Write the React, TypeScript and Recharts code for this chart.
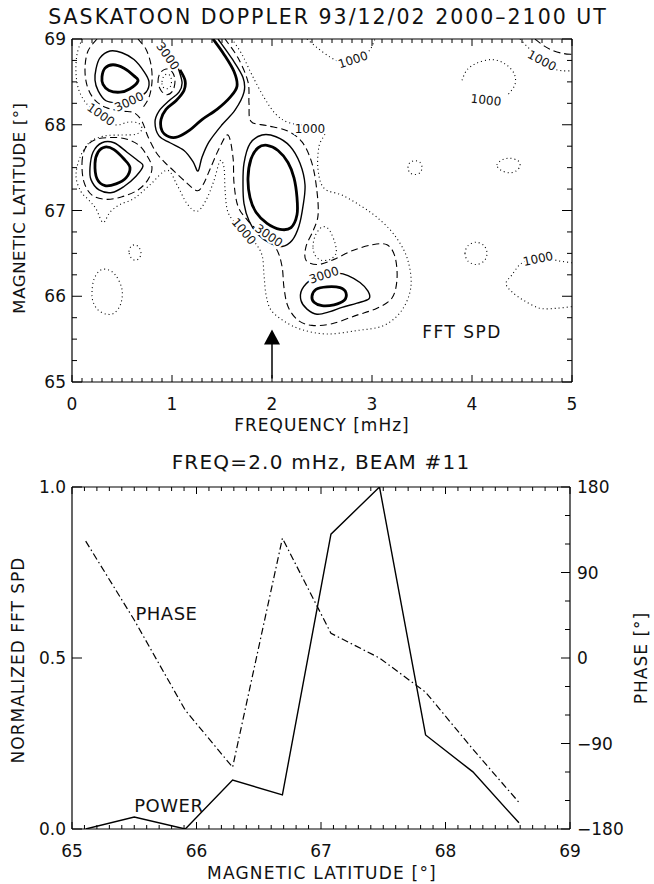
import React from 'react';
import { ComposedChart, Line, Scatter, XAxis, YAxis } from 'recharts';

type Pt = [number, number];

// ---------- top panel: contours of FFT spectral power, [freq mHz, magnetic lat]
// 4000 level (thick)
const thickA: Pt[] = [[0.30, 68.56], [0.33, 68.66], [0.41, 68.70], [0.52, 68.66], [0.62, 68.57], [0.66, 68.51], [0.58, 68.42], [0.48, 68.38], [0.37, 68.40], [0.31, 68.47]];
const thickB: Pt[] = [[0.23, 67.55], [0.26, 67.68], [0.33, 67.74], [0.42, 67.71], [0.52, 67.60], [0.58, 67.50], [0.54, 67.38], [0.44, 67.31], [0.33, 67.29], [0.25, 67.37]];
const thickC: Pt[] = [[1.08, 68.64], [1.13, 68.52], [1.12, 68.40], [1.04, 68.28], [0.94, 68.18], [0.89, 68.06], [0.90, 67.93], [0.97, 67.86], [1.06, 67.86], [1.18, 67.94], [1.30, 68.06], [1.45, 68.18], [1.58, 68.32], [1.65, 68.45], [1.62, 68.62], [1.52, 68.82], [1.41, 69.0]];
const thickD: Pt[] = [[1.76, 67.38], [1.79, 67.60], [1.86, 67.73], [1.95, 67.76], [2.06, 67.70], [2.16, 67.56], [2.22, 67.38], [2.25, 67.15], [2.25, 66.95], [2.19, 66.80], [2.08, 66.78], [1.95, 66.85], [1.84, 66.98], [1.78, 67.15]];
const thickE: Pt[] = [[2.40, 66.00], [2.44, 66.08], [2.55, 66.11], [2.68, 66.10], [2.74, 66.04], [2.72, 65.95], [2.62, 65.90], [2.50, 65.89], [2.42, 65.93]];

// 3000 level (thin solid)
const thinA: Pt[] = [[0.23, 68.52], [0.24, 68.65], [0.28, 68.78], [0.38, 68.86], [0.50, 68.84], [0.62, 68.76], [0.72, 68.62], [0.77, 68.50], [0.74, 68.38], [0.62, 68.30], [0.48, 68.26], [0.34, 68.28], [0.26, 68.40]];
const thinB: Pt[] = [[0.18, 67.50], [0.21, 67.68], [0.30, 67.79], [0.42, 67.79], [0.55, 67.68], [0.66, 67.58], [0.71, 67.52], [0.64, 67.40], [0.52, 67.28], [0.40, 67.21], [0.27, 67.24], [0.19, 67.36]];
const thinC: Pt[] = [[1.04, 68.74], [1.10, 68.50], [1.07, 68.38], [0.97, 68.28], [0.87, 68.16], [0.83, 68.03], [0.87, 67.87], [0.98, 67.79], [1.12, 67.70], [1.21, 67.57], [1.26, 67.46], [1.30, 67.62], [1.37, 67.80], [1.50, 68.00], [1.63, 68.17], [1.72, 68.38], [1.71, 68.55], [1.60, 68.77], [1.46, 69.0]];
const thinD: Pt[] = [[1.71, 67.30], [1.72, 67.55], [1.78, 67.78], [1.90, 67.88], [2.04, 67.86], [2.18, 67.75], [2.28, 67.55], [2.33, 67.30], [2.31, 67.05], [2.27, 66.82], [2.20, 66.65], [2.10, 66.58], [1.98, 66.62], [1.86, 66.72], [1.77, 66.88], [1.72, 67.08]];
const thinE: Pt[] = [[2.76, 66.24], [2.88, 66.16], [2.96, 66.06], [2.97, 65.97], [2.85, 65.92], [2.70, 65.87], [2.58, 65.82], [2.45, 65.79], [2.35, 65.85], [2.29, 65.95], [2.30, 66.08], [2.40, 66.20], [2.55, 66.26], [2.66, 66.27]];

// 2000 level (dashed)
const dashMain: Pt[] = [[0.25, 69.0], [0.16, 68.86], [0.13, 68.66], [0.15, 68.46], [0.22, 68.30], [0.34, 68.20], [0.50, 68.16], [0.62, 68.14], [0.70, 68.04], [0.76, 67.86], [0.84, 67.68], [0.92, 67.57], [1.02, 67.46], [1.14, 67.33], [1.25, 67.23], [1.31, 67.30], [1.38, 67.48], [1.47, 67.72], [1.56, 67.88], [1.61, 67.62], [1.62, 67.32], [1.66, 67.05], [1.76, 66.88], [1.90, 66.72], [2.04, 66.56], [2.10, 66.35], [2.12, 66.10], [2.16, 65.88], [2.26, 65.72], [2.40, 65.66], [2.60, 65.68], [2.85, 65.78], [3.05, 65.86], [3.20, 65.98], [3.25, 66.20], [3.23, 66.46], [3.15, 66.60], [3.00, 66.60], [2.80, 66.53], [2.62, 66.43], [2.46, 66.37], [2.34, 66.42], [2.34, 66.58], [2.41, 66.76], [2.46, 66.94], [2.45, 67.22], [2.40, 67.55], [2.30, 67.80], [2.15, 67.93], [1.95, 67.99], [1.79, 68.04], [1.77, 68.25], [1.76, 68.50], [1.66, 68.78], [1.53, 69.0]];
const dashArmA: Pt[] = [[0.66, 69.0], [0.74, 68.88], [0.79, 68.70], [0.80, 68.50], [0.77, 68.32], [0.71, 68.20]];
const dashB: Pt[] = [[0.10, 67.55], [0.13, 67.72], [0.22, 67.82], [0.36, 67.85], [0.52, 67.84], [0.66, 67.77], [0.75, 67.64], [0.80, 67.50], [0.76, 67.36], [0.66, 67.24], [0.50, 67.16], [0.34, 67.13], [0.20, 67.18], [0.12, 67.33]];
const dashSmall: Pt[] = [[0.86, 68.50], [0.88, 68.60], [0.94, 68.65], [1.00, 68.62], [1.03, 68.52], [1.01, 68.40], [0.95, 68.35], [0.89, 68.40]];
const dashTopRight: Pt[] = [[4.63, 69.0], [4.72, 68.92], [4.82, 68.86], [4.92, 68.83], [5.0, 68.82]];

// 1000 level (dotted)
const dotMain: Pt[] = [[0.10, 69.0], [0.05, 68.82], [0.04, 68.60], [0.07, 68.40], [0.15, 68.24], [0.28, 68.12], [0.43, 68.00], [0.56, 68.03], [0.66, 68.02], [0.70, 67.95], [0.64, 67.89], [0.50, 67.88], [0.33, 67.87], [0.18, 67.80], [0.08, 67.62], [0.04, 67.40], [0.09, 67.22], [0.17, 67.12], [0.24, 67.02], [0.31, 66.86], [0.38, 66.98], [0.48, 67.07], [0.62, 67.14], [0.78, 67.30], [0.95, 67.47], [1.05, 67.30], [1.15, 67.08], [1.25, 66.99], [1.34, 67.12], [1.42, 67.35], [1.48, 67.58], [1.52, 67.50], [1.53, 67.25], [1.55, 67.02], [1.60, 66.90], [1.70, 66.78], [1.82, 66.64], [1.90, 66.48], [1.92, 66.25], [1.94, 66.02], [1.99, 65.84], [2.12, 65.71], [2.30, 65.61], [2.55, 65.56], [2.85, 65.60], [3.12, 65.66], [3.30, 65.84], [3.39, 66.12], [3.35, 66.45], [3.22, 66.72], [3.05, 66.92], [2.88, 67.06], [2.70, 67.18], [2.52, 67.26], [2.46, 67.48], [2.47, 67.75], [2.53, 67.92], [2.40, 67.98], [2.18, 68.02], [2.04, 68.12], [1.92, 68.32], [1.80, 68.58], [1.70, 68.82], [1.60, 69.0]];
const dotInnerSmall: Pt[] = [[0.90, 68.50], [0.92, 68.57], [0.96, 68.59], [0.99, 68.55], [0.99, 68.46], [0.95, 68.42], [0.91, 68.44]];
const dotS1: Pt[] = [[0.57, 66.52], [0.59, 66.58], [0.63, 66.60], [0.67, 66.57], [0.69, 66.50], [0.67, 66.44], [0.63, 66.42], [0.59, 66.45]];
const dotS2: Pt[] = [[0.20, 66.05], [0.22, 66.20], [0.28, 66.30], [0.36, 66.31], [0.44, 66.24], [0.50, 66.08], [0.49, 65.92], [0.43, 65.81], [0.35, 65.79], [0.26, 65.84], [0.21, 65.94]];
const dotS3: Pt[] = [[2.41, 66.58], [2.43, 66.70], [2.48, 66.79], [2.53, 66.81], [2.58, 66.76], [2.63, 66.62], [2.64, 66.50], [2.58, 66.43], [2.49, 66.42], [2.43, 66.48]];
const dotS4: Pt[] = [[3.36, 67.50], [3.38, 67.56], [3.43, 67.58], [3.48, 67.56], [3.50, 67.50], [3.48, 67.44], [3.43, 67.42], [3.38, 67.44]];
const dotS5: Pt[] = [[4.25, 67.53], [4.30, 67.59], [4.38, 67.61], [4.46, 67.58], [4.48, 67.52], [4.44, 67.46], [4.37, 67.44], [4.29, 67.47]];
const dotS6: Pt[] = [[3.93, 66.50], [3.96, 66.59], [4.04, 66.63], [4.12, 66.59], [4.15, 66.50], [4.12, 66.41], [4.04, 66.37], [3.96, 66.41]];
const dotArcTR: Pt[] = [[3.90, 68.52], [3.95, 68.64], [4.05, 68.72], [4.20, 68.76], [4.33, 68.71], [4.42, 68.60], [4.43, 68.47], [4.36, 68.35]];
const dotTop: Pt[] = [[2.35, 69.0], [2.45, 68.90], [2.58, 68.79], [2.70, 68.73], [2.85, 68.77], [2.97, 68.86], [3.03, 69.0]];
const dotTopRight: Pt[] = [[4.48, 69.0], [4.58, 68.88], [4.70, 68.76], [4.80, 68.66], [4.90, 68.63], [5.0, 68.63]];
const dotLowRight: Pt[] = [[5.0, 66.39], [4.88, 66.41], [4.75, 66.44], [4.60, 66.45], [4.48, 66.37], [4.40, 66.25], [4.34, 66.15], [4.40, 66.05], [4.52, 65.95], [4.68, 65.86], [4.85, 65.86], [5.0, 65.88]];

const CONTOURS: { pts: Pt[]; level: number; closed: boolean }[] = [
  { pts: dotMain, level: 1000, closed: false },
  { pts: dotInnerSmall, level: 1000, closed: true },
  { pts: dotS1, level: 1000, closed: true },
  { pts: dotS2, level: 1000, closed: true },
  { pts: dotS3, level: 1000, closed: true },
  { pts: dotS4, level: 1000, closed: true },
  { pts: dotS5, level: 1000, closed: true },
  { pts: dotS6, level: 1000, closed: true },
  { pts: dotArcTR, level: 1000, closed: false },
  { pts: dotTop, level: 1000, closed: false },
  { pts: dotTopRight, level: 1000, closed: false },
  { pts: dotLowRight, level: 1000, closed: false },
  { pts: dashMain, level: 2000, closed: false },
  { pts: dashArmA, level: 2000, closed: false },
  { pts: dashB, level: 2000, closed: true },
  { pts: dashSmall, level: 2000, closed: true },
  { pts: dashTopRight, level: 2000, closed: false },
  { pts: thinA, level: 3000, closed: true },
  { pts: thinB, level: 3000, closed: true },
  { pts: thinC, level: 3000, closed: false },
  { pts: thinD, level: 3000, closed: true },
  { pts: thinE, level: 3000, closed: true },
  { pts: thickA, level: 4000, closed: true },
  { pts: thickB, level: 4000, closed: true },
  { pts: thickC, level: 4000, closed: false },
  { pts: thickD, level: 4000, closed: true },
  { pts: thickE, level: 4000, closed: true },
];

// contour labels
const LABEL_F = [0.96, 0.57, 0.29, 2.38, 2.81, 4.70, 4.14, 1.72, 1.97, 2.52, 4.66];
const LABEL_LAT = [68.80, 68.27, 68.12, 67.96, 68.76, 68.75, 68.29, 66.76, 66.71, 66.25, 66.44];
const LABEL_TEXT = ['3000', '3000', '1000', '1000', '1000', '1000', '1000', '1000', '3000', '3000', '1000'];
const LABEL_ANGLE = [55, -25, 35, 0, -18, 28, 6, 50, 35, -18, -12];

const ARROW_STEM: Pt[] = [[2.0, 65.04], [2.0, 65.47]];
const ARROW_HEAD: Pt = [2.0, 65.52];

const FREQ_MAJOR = [0, 1, 2, 3, 4, 5];
const LAT_MAJOR = [65, 66, 67, 68, 69];

// ---------- bottom panel: cut at 2.0 mHz, beam 11
const CUT_LAT = [65.11, 65.50, 65.91, 66.29, 66.69, 67.08, 67.47, 67.84, 68.22, 68.59];
const CUT_POWER = [0.0, 0.035, 0.0, 0.143, 0.10, 0.862, 1.0, 0.275, 0.167, 0.018];
const CUT_PHASE = [123, 40, -55, -115, 126, 26, 0, -36, -96, -152];
const POWER_MAJOR = [0, 0.5, 1];
const PHASE_MAJOR = [-180, -90, 0, 90, 180];

const FONT = '"DejaVu Sans", sans-serif';

const LEVEL_STYLE: Record<number, { w: number; dash?: string }> = {
  1000: { w: 1.1, dash: '1 3' },
  2000: { w: 1.1, dash: '7 4' },
  3000: { w: 1.4 },
  4000: { w: 2.8 },
};

// Catmull-Rom curve factory (open or closed) so contours pass through points
const catmull = (closed: boolean) => (ctx: any) => {
  let pts: number[][] = [];
  return {
    areaStart() {},
    areaEnd() {},
    lineStart() { pts = []; },
    lineEnd() {
      const n = pts.length;
      if (!n) return;
      const get = (i: number) => (closed ? pts[(i + n) % n] : pts[Math.max(0, Math.min(n - 1, i))]);
      ctx.moveTo(pts[0][0], pts[0][1]);
      const segs = closed ? n : n - 1;
      for (let i = 0; i < segs; i++) {
        const p0 = get(i - 1), p1 = get(i), p2 = get(i + 1), p3 = get(i + 2);
        ctx.bezierCurveTo(
          p1[0] + (p2[0] - p0[0]) / 6, p1[1] + (p2[1] - p0[1]) / 6,
          p2[0] - (p3[0] - p1[0]) / 6, p2[1] - (p3[1] - p1[1]) / 6,
          p2[0], p2[1]
        );
      }
      if (closed) ctx.closePath();
    },
    point(x: number, y: number) { pts.push([+x, +y]); },
  };
};
const openCurve = catmull(false);
const closedCurve = catmull(true);

function rangeTicks(majors: number[], step: number) {
  const out: number[] = [];
  const lo = majors[0];
  const n = Math.round((majors[majors.length - 1] - lo) / step);
  for (let i = 0; i <= n; i++) out.push(+(lo + i * step).toFixed(4));
  return out;
}

function FrameTick(props: any) {
  const { x, y, payload, side, majors, majorLen = 8, minorLen = 4, fmt, showLabel = true } = props;
  const v = payload.value;
  const major = majors.some((m: number) => Math.abs(m - v) < 1e-6);
  const len = major ? majorLen : minorLen;
  let x2 = x, y2 = y;
  if (side === 'bottom') y2 = y - len;
  if (side === 'top') y2 = y + len;
  if (side === 'left') x2 = x + len;
  if (side === 'right') x2 = x - len;
  let txt = null;
  if (major && showLabel) {
    const s = fmt ? fmt(v) : String(v);
    const common = { fontFamily: FONT, fontSize: 17, fill: '#111' };
    if (side === 'bottom') txt = <text x={x} y={y + 28} textAnchor="middle" {...common}>{s}</text>;
    if (side === 'left') txt = <text x={x - 6} y={y} dy="0.36em" textAnchor="end" {...common}>{s}</text>;
    if (side === 'right') txt = <text x={x + 7} y={y} dy="0.36em" textAnchor="start" {...common}>{s}</text>;
  }
  return (
    <g>
      <line x1={x} y1={y} x2={x2} y2={y2} stroke="#000" strokeWidth={1} />
      {txt}
    </g>
  );
}

const TextMark = (props: any) => {
  const { cx, cy, payload } = props;
  return (
    <text
      x={cx} y={cy} dy="0.36em" textAnchor={payload.anchor || 'middle'}
      transform={payload.angle ? `rotate(${payload.angle} ${cx} ${cy})` : undefined}
      fontFamily={FONT} fontSize={payload.size} fill="#111"
      stroke={payload.mask ? '#fff' : 'none'} strokeWidth={payload.mask ? 4 : 0}
      style={{ paintOrder: 'stroke', letterSpacing: payload.ls || 0 }}
    >
      {payload.text}
    </text>
  );
};

const ArrowHead = (props: any) => {
  const { cx, cy } = props;
  return <polygon points={`${cx},${cy - 8} ${cx - 8},${cy + 7} ${cx + 8},${cy + 7}`} fill="#000" />;
};

const axisLine = { stroke: '#000', strokeWidth: 1.2 };

function Caption({ x, y, text, size, ls = 1, rotate = 0 }: any) {
  return (
    <div
      style={{
        position: 'absolute', left: x, top: y, whiteSpace: 'nowrap', fontFamily: FONT,
        fontSize: size, letterSpacing: ls, color: '#111', lineHeight: 1,
        transform: `translate(-50%, -50%) rotate(${rotate}deg)`,
      }}
    >
      {text}
    </div>
  );
}

export default function App() {
  const labels = LABEL_F.map((f, i) => ({ f, lat: LABEL_LAT[i], text: LABEL_TEXT[i], angle: LABEL_ANGLE[i], size: 12, mask: true }));
  const spdLabel = [{ f: 3.90, lat: 65.59, text: 'FFT SPD', size: 17, ls: 1.5, mask: false }];
  const freqMinor = rangeTicks(FREQ_MAJOR, 0.1);
  const latMinor = rangeTicks(LAT_MAJOR, 0.25);

  const cutRows = CUT_LAT.map((lat, i) => ({ lat, power: CUT_POWER[i], phase: CUT_PHASE[i] }));
  const cutLatTicks = rangeTicks(LAT_MAJOR, 0.1);
  const phaseTicks = rangeTicks(PHASE_MAJOR, 30);
  const phaseLabel = [{ lat: 65.51, phase: 47, text: 'PHASE', size: 18, anchor: 'start', ls: 0.5 }];
  const powerLabel = [{ lat: 65.50, power: 0.07, text: 'POWER', size: 18, anchor: 'start', ls: 0.5 }];
  const fmtPhase = (v: number) => (v < 0 ? '\u2212' + Math.abs(v) : String(v));

  return (
    <div style={{ position: 'absolute', left: 0, top: 0, width: 654, height: 884, background: '#fff', overflow: 'hidden' }}>
      <Caption x={328} y={17} text="SASKATOON DOPPLER 93/12/02 2000–2100 UT" size={20.5} ls={2} />
      <div style={{ position: 'absolute', left: 0, top: 0 }}>
        <ComposedChart width={654} height={440} margin={{ top: 38, left: 71, right: 81, bottom: 57 }}>
          <XAxis dataKey="f" type="number" domain={[0, 5]} allowDataOverflow ticks={freqMinor} interval={0}
            height={1} tickSize={0} tickMargin={0} tickLine={false} axisLine={axisLine}
            tick={<FrameTick side="bottom" majors={FREQ_MAJOR} majorLen={7} minorLen={4} />} />
          <XAxis xAxisId="t" orientation="top" dataKey="f" type="number" domain={[0, 5]} allowDataOverflow ticks={freqMinor} interval={0}
            height={1} tickSize={0} tickMargin={0} tickLine={false} axisLine={axisLine}
            tick={<FrameTick side="top" majors={FREQ_MAJOR} majorLen={7} minorLen={4} showLabel={false} />} />
          <YAxis type="number" domain={[65, 69]} allowDataOverflow ticks={latMinor} interval={0}
            width={1} tickSize={0} tickMargin={0} tickLine={false} axisLine={axisLine}
            tick={<FrameTick side="left" majors={LAT_MAJOR} majorLen={10} minorLen={5} />} />
          <YAxis yAxisId="r" orientation="right" type="number" domain={[65, 69]} allowDataOverflow ticks={latMinor} interval={0}
            width={1} tickSize={0} tickMargin={0} tickLine={false} axisLine={axisLine}
            tick={<FrameTick side="right" majors={LAT_MAJOR} majorLen={10} minorLen={5} showLabel={false} />} />
          {CONTOURS.map((c, i) => {
            const st = LEVEL_STYLE[c.level];
            return (
              <Line key={i} data={c.pts.map(([f, lat]) => ({ f, lat }))} dataKey="lat"
                type={c.closed ? closedCurve : openCurve} stroke="#000" strokeWidth={st.w}
                strokeDasharray={st.dash} dot={false} activeDot={false} isAnimationActive={false} />
            );
          })}
          <Line data={ARROW_STEM.map(([f, lat]) => ({ f, lat }))} dataKey="lat" type="linear" stroke="#000"
            strokeWidth={1.5} dot={false} activeDot={false} isAnimationActive={false} />
          <Scatter data={[{ f: ARROW_HEAD[0], lat: ARROW_HEAD[1] }]} dataKey="lat" shape={<ArrowHead />} isAnimationActive={false} />
          <Scatter data={labels} dataKey="lat" shape={<TextMark />} isAnimationActive={false} />
          <Scatter data={spdLabel} dataKey="lat" shape={<TextMark />} isAnimationActive={false} />
        </ComposedChart>
      </div>
      <Caption x={322} y={425} text="FREQUENCY [mHz]" size={17} ls={1} />
      <Caption x={20} y={208} text="MAGNETIC LATITUDE [°]" size={16.5} ls={0.6} rotate={-90} />

      <Caption x={321} y={462} text="FREQ=2.0 mHz, BEAM #11" size={20} ls={1.2} />
      <div style={{ position: 'absolute', left: 0, top: 440 }}>
        <ComposedChart width={654} height={444} data={cutRows} margin={{ top: 46, left: 71, right: 83, bottom: 54 }}>
          <XAxis dataKey="lat" type="number" domain={[65, 69]} allowDataOverflow ticks={cutLatTicks} interval={0}
            height={1} tickSize={0} tickMargin={0} tickLine={false} axisLine={axisLine}
            tick={<FrameTick side="bottom" majors={LAT_MAJOR} majorLen={7} minorLen={4} />} />
          <XAxis xAxisId="t" orientation="top" dataKey="lat" type="number" domain={[65, 69]} allowDataOverflow ticks={cutLatTicks} interval={0}
            height={1} tickSize={0} tickMargin={0} tickLine={false} axisLine={axisLine}
            tick={<FrameTick side="top" majors={LAT_MAJOR} majorLen={7} minorLen={4} showLabel={false} />} />
          <YAxis yAxisId="l" type="number" domain={[0, 1]} allowDataOverflow ticks={POWER_MAJOR} interval={0}
            width={1} tickSize={0} tickMargin={0} tickLine={false} axisLine={axisLine}
            tick={<FrameTick side="left" majors={POWER_MAJOR} majorLen={10} minorLen={5} fmt={(v: number) => v.toFixed(1)} />} />
          <YAxis yAxisId="r" orientation="right" type="number" domain={[-180, 180]} allowDataOverflow ticks={phaseTicks} interval={0}
            width={1} tickSize={0} tickMargin={0} tickLine={false} axisLine={axisLine}
            tick={<FrameTick side="right" majors={PHASE_MAJOR} majorLen={9} minorLen={5} fmt={fmtPhase} />} />
          <Line yAxisId="r" dataKey="phase" type="linear" stroke="#000" strokeWidth={1.2} strokeDasharray="7 3 1.5 3"
            dot={false} activeDot={false} isAnimationActive={false} />
          <Line yAxisId="l" dataKey="power" type="linear" stroke="#000" strokeWidth={1.4}
            dot={false} activeDot={false} isAnimationActive={false} />
          <Scatter yAxisId="r" data={phaseLabel} dataKey="phase" shape={<TextMark />} isAnimationActive={false} />
          <Scatter yAxisId="l" data={powerLabel} dataKey="power" shape={<TextMark />} isAnimationActive={false} />
        </ComposedChart>
      </div>
      <Caption x={322} y={873} text="MAGNETIC LATITUDE [°]" size={17} ls={1.2} />
      <Caption x={18} y={660} text="NORMALIZED FFT SPD" size={17} ls={1} rotate={-90} />
      <Caption x={641} y={658} text="PHASE [°]" size={17} ls={1} rotate={-90} />
    </div>
  );
}
